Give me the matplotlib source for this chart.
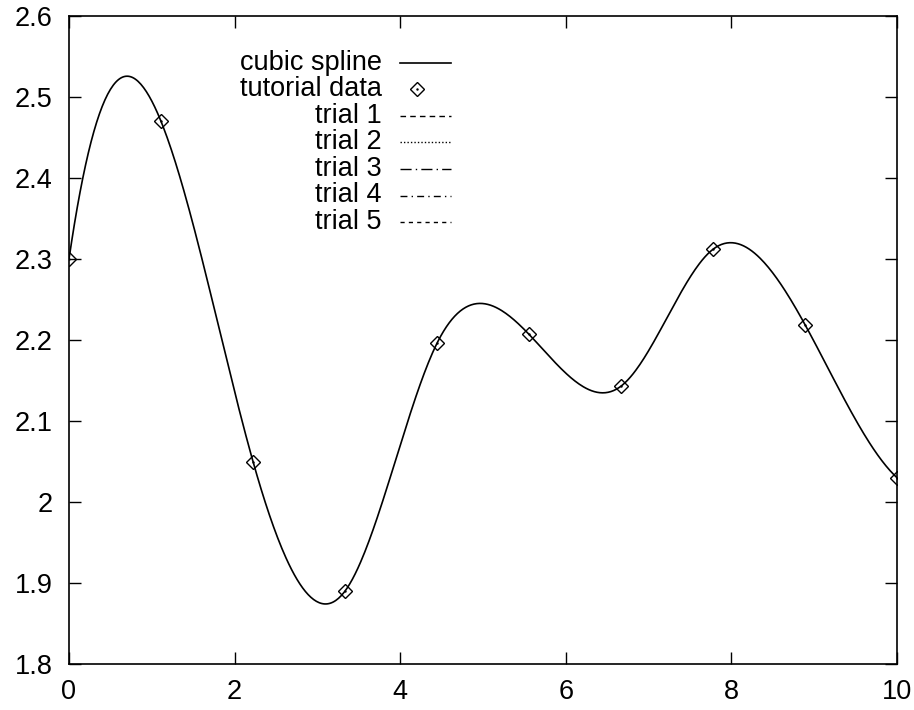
import numpy as np
import matplotlib.pyplot as plt
from matplotlib.lines import Line2D
from matplotlib.ticker import FuncFormatter

plt.rcParams['font.family'] = ['Liberation Sans', 'DejaVu Sans']

# tutorial data (10 evenly spaced samples on [0, 10])
x_data = np.linspace(0, 10, 10)
y_data = [2.300, 2.470, 2.050, 1.890, 2.196, 2.207, 2.143, 2.312, 2.219, 2.030]

legend_labels = ['cubic spline', 'tutorial data', 'trial 1', 'trial 2',
                 'trial 3', 'trial 4', 'trial 5']
trial_styles = [(0, (4, 3)), (0, (1, 1.5)), (0, (8, 3, 1, 3)),
                (0, (5, 3, 1, 3)), (0, (3, 3))]


def spline(x, y, xs):
    """not-a-knot cubic spline through (x, y), evaluated at xs"""
    x = np.asarray(x, float)
    y = np.asarray(y, float)
    n = len(x)
    h = np.diff(x)
    A = np.zeros((n, n))
    b = np.zeros(n)
    A[0, 0:3] = [h[1], -(h[0] + h[1]), h[0]]
    A[-1, -3:] = [h[-1], -(h[-2] + h[-1]), h[-2]]
    for i in range(1, n - 1):
        A[i, i - 1] = h[i - 1]
        A[i, i] = 2 * (h[i - 1] + h[i])
        A[i, i + 1] = h[i]
        b[i] = 6 * ((y[i + 1] - y[i]) / h[i] - (y[i] - y[i - 1]) / h[i - 1])
    M = np.linalg.solve(A, b)
    idx = np.clip(np.searchsorted(x, xs) - 1, 0, n - 2)
    x0, x1 = x[idx], x[idx + 1]
    hh = x1 - x0
    t0 = x1 - xs
    t1 = xs - x0
    return (M[idx] * t0**3 / (6 * hh) + M[idx + 1] * t1**3 / (6 * hh)
            + (y[idx] / hh - M[idx] * hh / 6) * t0
            + (y[idx + 1] / hh - M[idx + 1] * hh / 6) * t1)


xs = np.linspace(0, 10, 600)
ys = spline(x_data, y_data, xs)

fig = plt.figure(figsize=(9.14, 7.10), dpi=100)
ax = fig.add_axes([69 / 914, 46 / 710, 828 / 914, 648 / 710])

ax.plot(xs, ys, color='black', lw=1.2)
ax.plot(x_data, y_data, linestyle='none', marker='D', markersize=7,
        markerfacecolor='none', markeredgecolor='black', markeredgewidth=1.0)
ax.plot(x_data, y_data, linestyle='none', marker='.', markersize=1.5,
        color='black')

ax.set_xlim(0, 10)
ax.set_ylim(1.8, 2.6)
ax.set_xticks(np.arange(0, 11, 2))
ax.set_yticks(np.arange(1.8, 2.61, 0.1))
ax.yaxis.set_major_formatter(FuncFormatter(lambda v, p: '%g' % round(v, 2)))
ax.tick_params(direction='in', length=8.5, width=1, top=True, right=True,
               labelsize=19.5)
ax.tick_params(axis='y', pad=12)
ax.tick_params(axis='x', pad=11)
for s in ax.spines.values():
    s.set_linewidth(1.2)

# gnuplot style key: right aligned text, sample to the right
row0 = 1 - 46.5 / 648
step = 26.6 / 648
for i, lab in enumerate(legend_labels):
    yy = row0 - i * step
    ax.text(0.378, yy, lab, transform=ax.transAxes, ha='right', va='center',
            fontsize=19.5)
    if i == 0:
        ax.add_line(Line2D([0.400, 0.4614], [yy, yy], transform=ax.transAxes,
                           color='black', lw=1.2))
    elif i == 1:
        ax.add_line(Line2D([0.420], [yy], transform=ax.transAxes,
                           marker='D', markersize=7, markerfacecolor='none',
                           markeredgecolor='black', markeredgewidth=1.0))
        ax.add_line(Line2D([0.420], [yy], transform=ax.transAxes,
                           marker='.', markersize=1.5, color='black'))
    else:
        ax.add_line(Line2D([0.400, 0.4614], [yy, yy], transform=ax.transAxes,
                           color='black', lw=1.0, linestyle=trial_styles[i - 2]))

fig.savefig('out.png', dpi=100)
